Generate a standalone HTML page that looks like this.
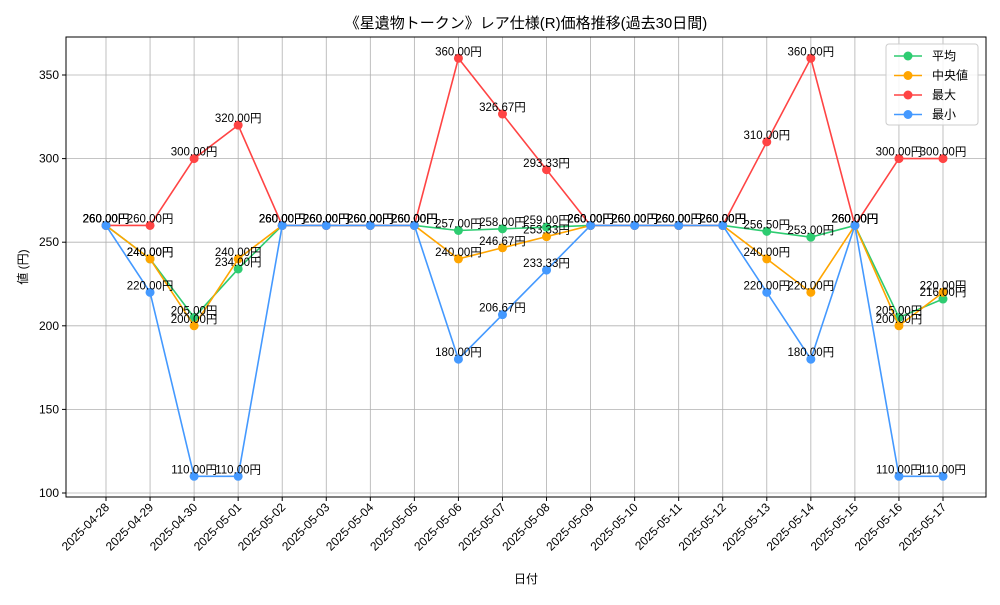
<!DOCTYPE html>
<html><head><meta charset="utf-8"><style>
body{margin:0;background:#fff;font-family:"Liberation Sans","Noto Sans CJK JP",sans-serif}
svg text{font-family:"Liberation Sans","Noto Sans CJK JP",sans-serif}
</style></head><body>
<svg id="c" width="1000" height="600" xmlns="http://www.w3.org/2000/svg">
<rect width="1000" height="600" fill="#fff"/>
<text x="526" y="28" text-anchor="middle" font-size="15">《星遺物トークン》レア仕様(R)価格推移(過去30日間)</text>
<g id="grid"></g><g id="axes"></g><g id="series"></g><g id="labels"></g>
<text x="526" y="583" text-anchor="middle" font-size="12">日付</text>
<text x="0" y="0" transform="translate(27,267) rotate(-90)" text-anchor="middle" font-size="12">値 (円)</text>
<rect x="66" y="37" width="920" height="460" fill="none" stroke="#000" stroke-width="1"/>
<g id="legend"></g>
</svg>
<script>
const dates=["2025-04-28","2025-04-29","2025-04-30","2025-05-01","2025-05-02","2025-05-03","2025-05-04","2025-05-05","2025-05-06","2025-05-07","2025-05-08","2025-05-09","2025-05-10","2025-05-11","2025-05-12","2025-05-13","2025-05-14","2025-05-15","2025-05-16","2025-05-17"];
const meanVals=[260,240,205,234,260,260,260,260,257,258,259,260,260,260,260,256.5,253,260,205,216];
const medianVals=[260,240,200,240,260,260,260,260,240,246.67,253.33,260,260,260,260,240,220,260,200,220];
const maxVals=[260,260,300,320,260,260,260,260,360,326.67,293.33,260,260,260,260,310,360,260,300,300];
const minVals=[260,220,110,110,260,260,260,260,180,206.67,233.33,260,260,260,260,220,180,260,110,110];
const yTicks=[100,150,200,250,300,350];
const seriesNames=["平均","中央値","最大","最小"];
const NS="http://www.w3.org/2000/svg";
const X=i=>106+i*(943-106)/(dates.length-1);
const Y=v=>493-(v-100)*418/250;
function mk(tag,attrs,parent){const e=document.createElementNS(NS,tag);for(const k in attrs)e.setAttribute(k,attrs[k]);parent.appendChild(e);return e;}
const grid=document.getElementById('grid'),axes=document.getElementById('axes');
dates.forEach((d,i)=>{
  const g=mk('line',{x1:X(i),x2:X(i),y1:37,y2:497,stroke:'#b0b0b0','stroke-width':0.8},grid);
  
  
  const t=mk('line',{x1:X(i),x2:X(i),y1:497,y2:501,stroke:'#000'},axes);
  
  
  const tx=mk('text',{x:0,y:0,'font-size':12,'text-anchor':'end',transform:`translate(${X(i)+4},${508}) rotate(-45)`},axes);
  tx.textContent=d;
  
  
});
yTicks.forEach(v=>{
  const g=mk('line',{x1:66,x2:986,y1:Y(v),y2:Y(v),stroke:'#b0b0b0','stroke-width':0.8},grid);
  
  
  const t=mk('line',{x1:62,x2:66,y1:Y(v),y2:Y(v),stroke:'#000'},axes);
  
  
  const tx=mk('text',{x:59,y:Y(v)+4,'font-size':12,'text-anchor':'end'},axes);
  tx.textContent=v;
  
  
});
const series=[[meanVals,'#2ecc71','mean'],[medianVals,'#ffa500','median'],[maxVals,'#ff4444','max'],[minVals,'#4499ff','min']];
const sg=document.getElementById('series'),lg=document.getElementById('labels');
series.forEach(([vals,col,nm])=>{
  const p=mk('polyline',{points:vals.map((v,i)=>X(i)+','+Y(v)).join(' '),fill:'none',stroke:col,'stroke-width':1.6},sg);
  
  
  vals.forEach((v,i)=>{
    const c=mk('circle',{cx:X(i),cy:Y(v),r:4.5,fill:col},sg);
    
    
    const t=mk('text',{x:X(i),y:Y(v)-3,'font-size':11.5,'text-anchor':'middle'},lg);
    t.textContent=v.toFixed(2)+'円';
    
    
  });
});
const leg=document.getElementById('legend');
const box=mk('rect',{x:886,y:44,width:92,height:81,rx:3,fill:'#fff','fill-opacity':0.85,stroke:'#ccc'},leg);


series.forEach(([v,col,nm],k)=>{
  const y=56+k*19.5;
  const l=mk('line',{x1:894,x2:922,y1:y,y2:y,stroke:col,'stroke-width':1.6},leg);
  
  
  const c=mk('circle',{cx:908,cy:y,r:4.5,fill:col},leg);
  
  
  const t=mk('text',{x:932,y:y+4,'font-size':12},leg);
  t.textContent=seriesNames[k];
  
  
});
</script>
</body></html>
